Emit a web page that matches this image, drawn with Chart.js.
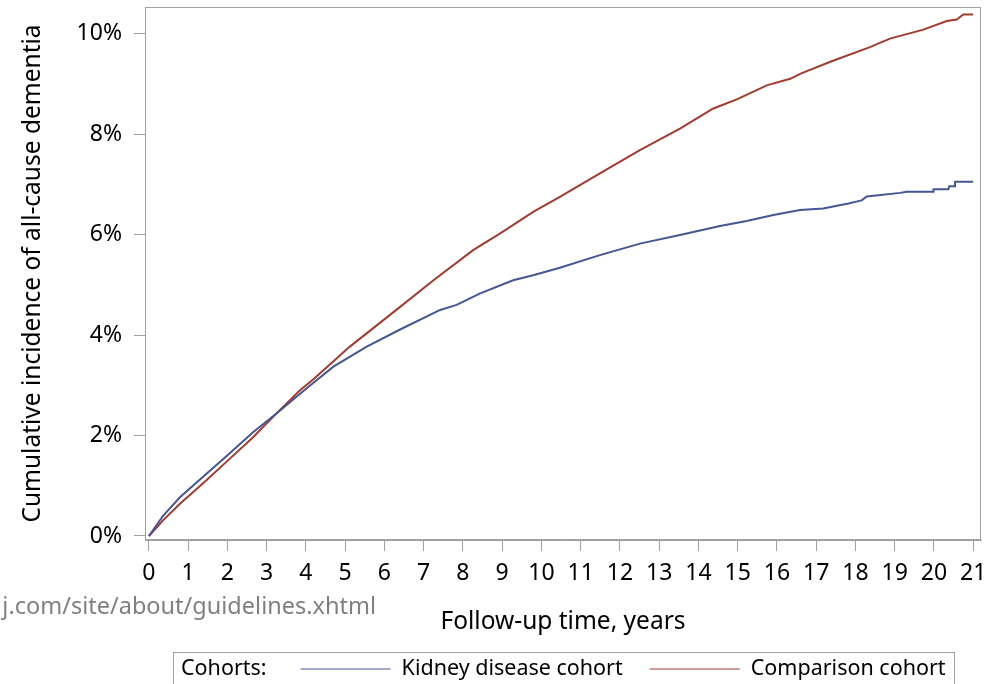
<!DOCTYPE html>
<html>
<head>
<meta charset="utf-8">
<script src="https://cdn.jsdelivr.net/npm/chart.js@4.4.1/dist/chart.umd.min.js"></script>
<style>
  html, body { margin: 0; padding: 0; background: #fff; }
</style>
</head>
<body>
<canvas id="graficoIncidencia" width="985" height="684"></canvas>
<script>
// Ticks of both axes
const xTicks = [0, 1, 2, 3, 4, 5, 6, 7, 8, 9, 10, 11, 12, 13, 14, 15, 16, 17, 18, 19, 20, 21];
const yTicks = [0, 2, 4, 6, 8, 10];

// Kidney disease cohort: follow-up years and cumulative incidence (%)
const kidneyYears = [0, 0.36, 0.79, 1.38, 1.98, 2.66, 3.25, 4.02, 4.70, 5.55, 6.40, 7.42, 7.84, 8.44, 9.28, 9.79,
  10.47, 11.49, 12.51, 13.53, 14.55, 15.23, 15.91, 16.59, 17.18, 17.82, 18.16, 18.29, 19.14, 19.30, 19.99, 19.99,
  20.37, 20.39, 20.54, 20.54, 21.0];
const kidneyPct = [0, 0.40, 0.77, 1.18, 1.59, 2.07, 2.44, 2.94, 3.37, 3.77, 4.11, 4.50, 4.60, 4.83, 5.09, 5.19,
  5.34, 5.59, 5.82, 5.99, 6.17, 6.27, 6.39, 6.49, 6.52, 6.62, 6.68, 6.76, 6.83, 6.85, 6.85, 6.90,
  6.90, 6.96, 6.96, 7.05, 7.05];

// Comparison cohort
const comparisonYears = [0, 0.36, 0.79, 1.38, 1.98, 2.66, 3.25, 3.85, 4.19, 5.12, 6.40, 7.25, 8.26, 8.94, 9.79,
  10.47, 11.49, 12.51, 13.53, 14.38, 14.98, 15.74, 16.34, 16.59, 17.36, 18.37, 18.88, 19.73, 20.33, 20.58,
  20.75, 21.0];
const comparisonPct = [0, 0.31, 0.64, 1.05, 1.48, 1.97, 2.44, 2.90, 3.12, 3.77, 4.56, 5.09, 5.69, 6.02, 6.45,
  6.75, 7.22, 7.68, 8.11, 8.51, 8.69, 8.97, 9.10, 9.20, 9.44, 9.73, 9.90, 10.08, 10.25, 10.28,
  10.38, 10.38];

const cohortLabels = ['Kidney disease cohort', 'Comparison cohort'];
const cohortColors = ['#445694', '#a23a2e'];
const legendTitle = 'Cohorts:';
const xTitle = 'Follow-up time, years';
const yTitle = 'Cumulative incidence of all-cause dementia';
const footnote = 'j.com/site/about/guidelines.xhtml';

const FONT = '"Noto Sans", "Open Sans", sans-serif';
const GRIS = '#a0a0a0';

function puntos(xs, ys) {
    return xs.map((x, i) => ({ x: x, y: ys[i] }));
}

// Frame around the plot area
const marco = {
    id: 'marco',
    afterDraw(chart) {
        const { ctx, chartArea: a } = chart;
        ctx.save();
        ctx.strokeStyle = GRIS;
        ctx.lineWidth = 1;
        ctx.strokeRect(Math.round(a.left) + 0.5, Math.round(a.top) + 0.5,
            Math.round(a.right - a.left) - 1, Math.round(a.bottom - a.top) - 1);
        ctx.restore();
    }
};

// Boxed legend under the axis title, plus the cut footnote on the left
const leyenda = {
    id: 'leyenda',
    afterDraw(chart) {
        const { ctx, chartArea: a } = chart;
        ctx.save();
        ctx.font = '21.5px ' + FONT;
        ctx.textBaseline = 'middle';
        ctx.textAlign = 'left';

        const pad = 8, lineLen = 90, gapTitle = 34, gapLine = 11, gapItem = 27;
        const wTitle = ctx.measureText(legendTitle).width;
        const wItems = cohortLabels.map(t => ctx.measureText(t).width);
        let total = pad * 2 + wTitle;
        wItems.forEach((w, i) => { total += (i === 0 ? gapTitle : gapItem) + lineLen + gapLine + w; });

        const boxLeft = Math.round((a.left + a.right) / 2 - total / 2);
        const boxTop = 652, yMid = 669;

        ctx.strokeStyle = GRIS;
        ctx.lineWidth = 1;
        ctx.strokeRect(boxLeft + 0.5, boxTop + 0.5, Math.round(total), 60);

        ctx.fillStyle = '#000';
        let x = boxLeft + pad;
        ctx.fillText(legendTitle, x, yMid);
        x += wTitle;
        cohortLabels.forEach((t, i) => {
            x += (i === 0 ? gapTitle : gapItem);
            ctx.strokeStyle = cohortColors[i];
            ctx.lineWidth = 1;
            ctx.beginPath();
            ctx.moveTo(x, yMid);
            ctx.lineTo(x + lineLen, yMid);
            ctx.stroke();
            x += lineLen + gapLine;
            ctx.fillStyle = '#000';
            ctx.fillText(t, x, yMid);
            x += wItems[i];
        });

        ctx.font = '23.5px ' + FONT;
        ctx.fillStyle = '#808080';
        ctx.textAlign = 'right';
        ctx.fillText(footnote, 376, 607);
        ctx.restore();
    }
};

const ctx = document.getElementById('graficoIncidencia').getContext('2d');
new Chart(ctx, {
    type: 'line',
    data: {
        datasets: [
            {
                label: cohortLabels[0],
                data: puntos(kidneyYears, kidneyPct),
                borderColor: cohortColors[0],
                borderWidth: 2,
                pointRadius: 0,
                tension: 0,
                fill: false
            },
            {
                label: cohortLabels[1],
                data: puntos(comparisonYears, comparisonPct),
                borderColor: cohortColors[1],
                borderWidth: 2,
                pointRadius: 0,
                tension: 0,
                fill: false
            }
        ]
    },
    options: {
        responsive: false,
        animation: false,
        layout: { padding: { top: 7, right: 4, bottom: 46, left: 0 } },
        plugins: {
            legend: { display: false },
            tooltip: { enabled: false }
        },
        scales: {
            x: {
                type: 'linear',
                min: -0.1,
                max: 21.2,
                afterBuildTicks: s => { s.ticks = xTicks.map(v => ({ value: v })); },
                afterFit: s => { s.height = 98; s.paddingLeft = 0; s.paddingRight = 0; },
                ticks: {
                    font: { family: FONT, size: 23 },
                    color: '#000',
                    padding: 9,
                    maxRotation: 0,
                    autoSkip: false
                },
                grid: { drawOnChartArea: false, tickLength: 11, color: GRIS },
                border: { color: GRIS },
                title: {
                    display: true,
                    text: xTitle,
                    font: { family: FONT, size: 24.5 },
                    color: '#000',
                    padding: { top: 0, bottom: 1 }
                }
            },
            y: {
                min: -0.08,
                max: 10.53,
                afterBuildTicks: s => { s.ticks = yTicks.map(v => ({ value: v })); },
                afterFit: s => { s.width = 145; s.paddingTop = 0; s.paddingBottom = 0; },
                ticks: {
                    font: { family: FONT, size: 23 },
                    color: '#000',
                    padding: 12,
                    callback: v => v + '%'
                },
                grid: { drawOnChartArea: false, tickLength: 11, color: GRIS },
                border: { color: GRIS },
                title: {
                    display: true,
                    text: yTitle,
                    font: { family: FONT, size: 24.5 },
                    color: '#000',
                    padding: { top: 18, bottom: 0 }
                }
            }
        }
    },
    plugins: [marco, leyenda]
});
</script>
</body>
</html>
